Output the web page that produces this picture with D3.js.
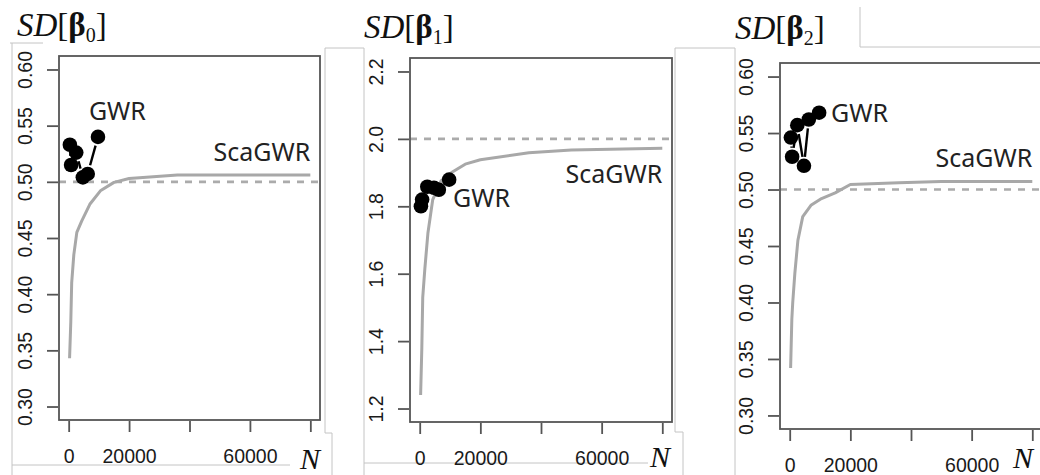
<!DOCTYPE html>
<html>
<head>
<meta charset="utf-8">
<script src="https://cdn.jsdelivr.net/npm/d3@7"></script>
<style>
  html, body { margin: 0; padding: 0; background: #fff; }
  svg { display: block; }
</style>
</head>
<body>
<div id="chart"></div>
<script>
// ---- data ----
var nTicks = [0, 20000, 40000, 60000, 80000];
var nTickLabels = ['0', '20000', '', '60000', ''];

var yTicksBeta0 = [0.30, 0.35, 0.40, 0.45, 0.50, 0.55, 0.60];
var yTicksBeta1 = [1.2, 1.4, 1.6, 1.8, 2.0, 2.2];
var yTicksBeta2 = [0.30, 0.35, 0.40, 0.45, 0.50, 0.55, 0.60];
var yLabelsBeta0 = ['0.30', '0.35', '0.40', '0.45', '0.50', '0.55', '0.60'];
var yLabelsBeta1 = ['1.2', '1.4', '1.6', '1.8', '2.0', '2.2'];
var yLabelsBeta2 = ['0.30', '0.35', '0.40', '0.45', '0.50', '0.55', '0.60'];

// ScaGWR curve
var scaN = [300, 700, 1000, 1700, 2700, 4300, 7000, 10500, 15000, 20000, 36000, 50000, 80000];
var scaBeta0 = [0.343, 0.375, 0.410, 0.435, 0.455, 0.465, 0.480, 0.492, 0.4995, 0.503, 0.506, 0.506, 0.506];
var scaBeta1 = [1.24, 1.38, 1.53, 1.615, 1.72, 1.82, 1.875, 1.90, 1.925, 1.938, 1.959, 1.967, 1.972];
var scaBeta2 = [0.342, 0.385, 0.400, 0.426, 0.455, 0.476, 0.486, 0.492, 0.497, 0.5045, 0.506, 0.507, 0.507];

// GWR points
var gwrN = [400, 800, 2500, 4700, 6300, 9700];
var gwrBeta0 = [0.533, 0.515, 0.526, 0.504, 0.507, 0.540];
var gwrBeta1 = [1.800, 1.820, 1.858, 1.855, 1.849, 1.879];
var gwrBeta2 = [0.546, 0.529, 0.557, 0.521, 0.562, 0.568];

// true values (dashed reference lines)
var trueBeta = [0.5, 2.0, 0.5];
var subscripts = ['0', '1', '2'];

// label anchors in data units [N, value]
var gwrLabelAt = [[6700, 0.555], [11000, 1.798], [13600, 0.560]];
var scaLabelAt = [[80000, 0.5185], [80000, 1.869], [80000, 0.520]];

// ---- layout ----
var W = 1040, H = 475;
var panels = [
  { left: 59, right: 320, top: 56, bottom: 420, yTicks: yTicksBeta0, yLabels: yLabelsBeta0,
    sca: scaBeta0, gwr: gwrBeta0, titleX: 17, titleY: 36, nX: 300, nY: 469 },
  { left: 410, right: 672, top: 58, bottom: 422, yTicks: yTicksBeta1, yLabels: yLabelsBeta1,
    sca: scaBeta1, gwr: gwrBeta1, titleX: 364, titleY: 38, nX: 650, nY: 467 },
  { left: 780, right: 1042, top: 63, bottom: 429, yTicks: yTicksBeta2, yLabels: yLabelsBeta2,
    sca: scaBeta2, gwr: gwrBeta2, titleX: 735, titleY: 39, nX: 1013, nY: 468 }
];

// thin frame lines left over from the pasted panel images
var frameLines = [
  [[10, 43], [43, 43]],
  [[12, 43], [12, 475]],
  [[12, 465], [290, 465]],
  [[325, 48], [364, 48]],
  [[325, 48], [325, 433], [332, 433], [332, 475]],
  [[364, 48], [364, 475]],
  [[364, 463], [648, 463]],
  [[675, 48], [735, 48]],
  [[675, 48], [675, 432], [683, 432], [683, 475]],
  [[735, 48], [735, 475]],
  [[860, 7], [860, 47], [1040, 47]]
];

var svg = d3.select('#chart').append('svg')
  .attr('width', W)
  .attr('height', H);

drawFrames();
panels.forEach(drawPanel);

function drawFrames() {
  var line = d3.line();
  svg.append('g').selectAll('path')
    .data(frameLines).enter()
    .append('path')
    .attr('d', line)
    .attr('fill', 'none')
    .attr('stroke', '#c4c4c4')
    .attr('stroke-width', 1);
}

// R style: range padded by 4% on each side
function padded(lo, hi) {
  var r = hi - lo;
  return [lo - 0.04 * r, hi + 0.04 * r];
}

// segments between points with a gap at each end (like R type="b")
function gappedSegments(pts, gap) {
  var segs = [];
  for (var k = 1; k < pts.length; k++) {
    var a = pts[k - 1], b = pts[k];
    var dx = b[0] - a[0], dy = b[1] - a[1];
    var len = Math.sqrt(dx * dx + dy * dy);
    if (len <= 2 * gap) continue;
    var ux = dx / len, uy = dy / len;
    segs.push([[a[0] + ux * gap, a[1] + uy * gap], [b[0] - ux * gap, b[1] - uy * gap]]);
  }
  return segs;
}

function drawPanel(p, i) {
  var x = d3.scaleLinear()
    .domain(padded(0, 80000))
    .range([p.left, p.right]);
  var y = d3.scaleLinear()
    .domain(padded(d3.min(p.yTicks), d3.max(p.yTicks)))
    .range([p.bottom, p.top]);

  var g = svg.append('g');

  // x axis: ticks below the box
  var xAxis = d3.axisBottom(x)
    .tickValues(nTicks)
    .tickSize(11)
    .tickFormat(function (d, k) { return nTickLabels[k]; });
  var gx = g.append('g')
    .attr('transform', 'translate(0,' + (p.bottom + 1) + ')')
    .call(xAxis);
  gx.select('.domain').remove();
  gx.selectAll('.tick line').attr('stroke', '#555').attr('stroke-width', 1.8);
  gx.selectAll('.tick text')
    .attr('y', 42)
    .attr('dy', 0)
    .attr('fill', '#1a1a1a')
    .style('font-family', '"Liberation Sans", Arial, sans-serif')
    .style('font-size', '19.5px');

  // y axis: ticks left of box, labels rotated
  var yAxis = d3.axisLeft(y)
    .tickValues(p.yTicks)
    .tickSize(11)
    .tickFormat(function (d, k) { return p.yLabels[k]; });
  var gy = g.append('g')
    .attr('transform', 'translate(' + (p.left - 1) + ',0)')
    .call(yAxis);
  gy.select('.domain').remove();
  gy.selectAll('.tick line').attr('stroke', '#555').attr('stroke-width', 1.8);
  gy.selectAll('.tick text')
    .attr('x', 0)
    .attr('dy', 0)
    .attr('transform', 'translate(-26,0) rotate(-90)')
    .attr('text-anchor', 'middle')
    .attr('fill', '#1a1a1a')
    .style('font-family', '"Liberation Sans", Arial, sans-serif')
    .style('font-size', '19.5px');

  // dashed reference line at the true value
  g.append('line')
    .attr('x1', p.left)
    .attr('x2', p.right)
    .attr('y1', y(trueBeta[i]))
    .attr('y2', y(trueBeta[i]))
    .attr('stroke', '#ababab')
    .attr('stroke-width', 2.6)
    .attr('stroke-dasharray', '7,7');

  // ScaGWR curve
  var scaLine = d3.line()
    .x(function (d, k) { return x(scaN[k]); })
    .y(function (d) { return y(d); });
  g.append('path')
    .datum(p.sca)
    .attr('d', scaLine)
    .attr('fill', 'none')
    .attr('stroke', '#a8a8a8')
    .attr('stroke-width', 3)
    .attr('stroke-linejoin', 'round');

  // GWR points joined by a broken line
  var pts = p.gwr.map(function (d, k) { return [x(gwrN[k]), y(d)]; });
  g.selectAll('line.gwr')
    .data(gappedSegments(pts, 9)).enter()
    .append('line')
    .attr('class', 'gwr')
    .attr('x1', function (s) { return s[0][0]; })
    .attr('y1', function (s) { return s[0][1]; })
    .attr('x2', function (s) { return s[1][0]; })
    .attr('y2', function (s) { return s[1][1]; })
    .attr('stroke', '#000')
    .attr('stroke-width', 2.4);
  g.selectAll('circle.gwr')
    .data(pts).enter()
    .append('circle')
    .attr('class', 'gwr')
    .attr('cx', function (d) { return d[0]; })
    .attr('cy', function (d) { return d[1]; })
    .attr('r', 7.3)
    .attr('fill', '#000');

  // box
  g.append('rect')
    .attr('x', p.left)
    .attr('y', p.top)
    .attr('width', p.right - p.left)
    .attr('height', p.bottom - p.top)
    .attr('fill', 'none')
    .attr('stroke', '#555')
    .attr('stroke-width', 1.8);

  // series labels
  g.append('text')
    .attr('x', x(gwrLabelAt[i][0]))
    .attr('y', y(gwrLabelAt[i][1]))
    .attr('fill', '#222')
    .style('font-family', '"Noto Sans", sans-serif')
    .style('font-size', '25px')
    .text('GWR');
  g.append('text')
    .attr('x', x(scaLabelAt[i][0]))
    .attr('y', y(scaLabelAt[i][1]))
    .attr('text-anchor', 'end')
    .attr('fill', '#222')
    .style('font-family', '"Noto Sans", sans-serif')
    .style('font-size', '25px')
    .text('ScaGWR');

  // axis title N
  g.append('text')
    .attr('x', p.nX)
    .attr('y', p.nY)
    .attr('fill', '#111')
    .style('font-family', '"Liberation Serif", "Times New Roman", serif')
    .style('font-style', 'italic')
    .style('font-size', '30px')
    .text('N');

  // panel title SD[β_i]
  var t = g.append('text')
    .attr('x', p.titleX)
    .attr('y', p.titleY)
    .attr('fill', '#111')
    .style('font-family', '"Liberation Serif", "Times New Roman", serif')
    .style('font-size', '33px');
  t.append('tspan').style('font-style', 'italic').text('SD');
  t.append('tspan').text('[');
  t.append('tspan').style('font-weight', 'bold').text('β');
  t.append('tspan').attr('dy', 6).style('font-size', '20px').text(subscripts[i]);
  t.append('tspan').attr('dy', -6).text(']');
}
</script>
</body>
</html>
